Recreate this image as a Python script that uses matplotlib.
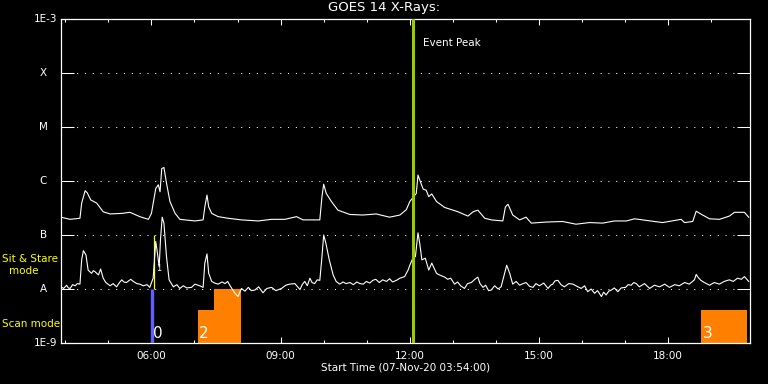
import numpy as np
import matplotlib
matplotlib.use('Agg')
import matplotlib.pyplot as plt

# GOES 14 X-ray flux, time in hours (UT) on 07-Nov-20, log10 flux (W/m^2)
t_long = [3.90, 4.11, 4.34, 4.38, 4.46, 4.51, 4.59, 4.73, 4.88, 5.04, 5.31, 5.50, 5.73, 5.93,
          6.00, 6.10, 6.16, 6.20, 6.24, 6.29, 6.35, 6.43, 6.55, 6.66, 6.78, 7.01, 7.20, 7.24,
          7.29, 7.33, 7.40, 7.55, 7.78, 8.09, 8.48, 8.79, 9.10, 9.37, 9.52, 9.91, 9.96, 10.00,
          10.06, 10.18, 10.33, 10.61, 10.91, 11.22, 11.53, 11.77, 11.92, 12.00, 12.15, 12.19,
          12.23, 12.31, 12.38, 12.44, 12.51, 12.62, 12.81, 13.12, 13.35, 13.47, 13.58, 13.74,
          13.89, 14.16, 14.22, 14.28, 14.39, 14.55, 14.70, 14.82, 15.17, 15.55, 15.86, 16.17,
          16.48, 16.75, 17.03, 17.22, 17.87, 18.30, 18.38, 18.57, 18.65, 18.80, 18.96, 19.19,
          19.42, 19.54, 19.77, 19.87]
f_long = [-6.67, -6.71, -6.69, -6.41, -6.18, -6.22, -6.35, -6.41, -6.57, -6.61, -6.60, -6.58, -6.66, -6.71,
          -6.60, -6.14, -6.07, -6.20, -5.77, -5.75, -6.04, -6.38, -6.60, -6.71, -6.72, -6.74, -6.72, -6.48,
          -6.26, -6.48, -6.60, -6.66, -6.69, -6.72, -6.74, -6.71, -6.71, -6.66, -6.72, -6.72, -6.29, -6.06,
          -6.23, -6.38, -6.54, -6.62, -6.63, -6.61, -6.67, -6.63, -6.53, -6.38, -6.23, -5.89,
          -5.98, -6.15, -6.17, -6.29, -6.24, -6.38, -6.49, -6.57, -6.65, -6.57, -6.54, -6.69,
          -6.72, -6.74, -6.48, -6.43, -6.63, -6.72, -6.67, -6.78, -6.76, -6.75, -6.80, -6.77,
          -6.78, -6.74, -6.74, -6.70, -6.77, -6.71, -6.77, -6.75, -6.56, -6.63, -6.70, -6.71,
          -6.65, -6.58, -6.58, -6.67]

t_short = [3.90, 3.96, 4.03, 4.07, 4.11, 4.17, 4.23, 4.28, 4.34, 4.38, 4.42, 4.48, 4.53, 4.61, 4.65,
           4.69, 4.77, 4.82, 4.88, 4.94, 5.04, 5.11, 5.19, 5.25, 5.31, 5.36, 5.42, 5.52, 5.58, 5.66,
           5.73, 5.81, 5.90, 5.96, 6.04, 6.10, 6.14, 6.18, 6.21, 6.25, 6.29, 6.35, 6.41, 6.51, 6.59,
           6.66, 6.74, 6.82, 6.93, 7.01, 7.12, 7.20, 7.24, 7.29, 7.33, 7.40, 7.47, 7.55, 7.64, 7.71,
           7.77, 7.82, 7.89, 7.94, 8.01, 8.09, 8.17, 8.25, 8.32, 8.40, 8.49, 8.59, 8.68, 8.79, 8.89,
           9.02, 9.12, 9.21, 9.33, 9.45, 9.50, 9.56, 9.62, 9.68, 9.73, 9.79, 9.85, 9.91, 9.96, 10.00,
           10.05, 10.13, 10.22, 10.29, 10.37, 10.45, 10.52, 10.61, 10.69, 10.77, 10.84, 10.92, 10.99,
           11.07, 11.14, 11.21, 11.29, 11.37, 11.46, 11.53, 11.60, 11.69, 11.77, 11.84, 11.88, 11.96,
           12.00, 12.07, 12.13, 12.19, 12.23, 12.28, 12.36, 12.44, 12.51, 12.62, 12.69, 12.81, 12.88,
           12.95, 13.04, 13.11, 13.18, 13.27, 13.34, 13.43, 13.51, 13.58, 13.63, 13.70, 13.76, 13.83,
           13.89, 13.97, 14.05, 14.12, 14.20, 14.25, 14.32, 14.39, 14.47, 14.55, 14.63, 14.70, 14.78,
           14.86, 14.93, 15.01, 15.11, 15.21, 15.27, 15.32, 15.37, 15.44, 15.51, 15.59, 15.69, 15.79,
           15.88, 15.98, 16.06, 16.13, 16.21, 16.29, 16.36, 16.45, 16.50, 16.56, 16.62, 16.68, 16.75,
           16.83, 16.91, 17.01, 17.07, 17.14, 17.20, 17.26, 17.33, 17.45, 17.57, 17.68, 17.80, 17.92,
           18.03, 18.15, 18.26, 18.38, 18.49, 18.61, 18.65, 18.70, 18.76, 18.84, 18.96, 19.07, 19.19,
           19.30, 19.42, 19.51, 19.61, 19.70, 19.77, 19.87]
f_short = [-7.96, -7.99, -7.93, -7.98, -7.99, -7.92, -7.94, -7.90, -7.91, -7.46, -7.29, -7.37, -7.65, -7.71, -7.66,
           -7.68, -7.74, -7.63, -7.80, -7.88, -7.94, -7.90, -7.96, -7.89, -7.83, -7.87, -7.88, -7.82, -7.86, -7.90,
           -7.91, -7.94, -7.92, -7.97, -7.80, -7.12, -7.34, -7.59, -7.09, -6.67, -6.78, -7.40, -7.83, -7.96, -7.92,
           -7.99, -7.94, -7.98, -7.97, -7.91, -7.94, -7.97, -7.52, -7.35, -7.71, -7.86, -7.89, -7.91, -7.87, -7.90,
           -7.86, -7.93, -8.02, -8.08, -8.14, -7.99, -8.04, -7.97, -8.03, -8.02, -7.96, -8.07, -7.99, -7.97, -8.03,
           -7.99, -7.93, -7.91, -7.90, -8.01, -7.92, -7.86, -7.94, -7.80, -7.88, -7.90, -7.83, -7.84, -7.40, -7.00,
           -7.15, -7.46, -7.74, -7.86, -7.91, -7.87, -7.90, -7.88, -7.92, -7.87, -7.90, -7.91, -7.86,
           -7.89, -7.84, -7.82, -7.88, -7.83, -7.86, -7.81, -7.87, -7.84, -7.80, -7.78, -7.77, -7.65,
           -7.56, -7.43, -7.40, -6.96, -7.15, -7.46, -7.43, -7.65, -7.52, -7.71, -7.74, -7.78, -7.82,
           -7.80, -7.91, -7.87, -7.94, -7.99, -7.90, -7.88, -7.82, -7.78, -7.90, -7.97, -7.93, -8.03,
           -8.02, -7.94, -8.00, -7.96, -7.71, -7.56, -7.71, -7.91, -7.86, -7.93, -7.90, -7.88, -7.95,
           -7.97, -7.90, -7.94, -7.89, -7.99, -7.93, -7.91, -7.85, -7.84, -7.92, -7.96, -7.90, -7.91,
           -7.95, -7.99, -7.94, -8.05, -8.00, -8.08, -8.03, -8.14, -8.06, -8.11, -8.04, -8.02, -7.98,
           -8.05, -7.98, -7.97, -7.92, -7.93, -7.88, -7.90, -7.96, -7.90, -7.99, -7.93, -7.96, -7.91,
           -7.97, -7.92, -7.94, -7.88, -7.91, -7.83, -7.73, -7.79, -7.84, -7.88, -7.93, -7.88, -7.91,
           -7.86, -7.83, -7.86, -7.80, -7.82, -7.77, -7.86]

# observing-mode blocks: start, end (hours), top (log10 flux), label
scan_start = [7.08, 7.45, 18.77]
scan_end = [7.45, 8.07, 19.83]
scan_top = [-8.39, -8.0, -8.39]
scan_label_t = [6.04, 7.10, 18.80]
scan_labels = ['0', '2', '3']

event_peak = 12.08
stare_time = 6.03

level_vals = [1e-9, 1e-8, 1e-7, 1e-6, 1e-5, 1e-4, 1e-3]
level_labels = ['1E-9', 'A', 'B', 'C', 'M', 'X', '1E-3']
hour_ticks = [6, 9, 12, 15, 18]

fig = plt.figure(figsize=(7.68, 3.84), dpi=100, facecolor='black')
ax = fig.add_axes([61/768, 41/384, 689/768, 324/384])
ax.set_facecolor('black')
ax.set_yscale('log')
ax.set_xlim(3.9, 19.9)
ax.set_ylim(1e-9, 1e-3)

# dotted level lines
for lv in level_vals[1:-1]:
    ax.axhline(lv, color='white', lw=0.75, ls=(0, (1, 6.5)), zorder=1)

# scan mode blocks
for s, e, top in zip(scan_start, scan_end, scan_top):
    ax.fill_between([s, e], 1e-9, 10**top, color='#ff8000', lw=0, zorder=2)
for tl, lab in zip(scan_label_t, scan_labels):
    ax.text(tl, 10**-8.82, lab, color='white', fontsize=11, ha='left', va='center', zorder=5)

ax.vlines(stare_time - 0.01, 1e-9, 1e-8, color='#6060ff', lw=2.4, zorder=3)
ax.vlines(stare_time + 0.02, 1e-8, 1e-7, color='#ffff00', lw=0.9, zorder=3)
ax.text(6.1, 10**-7.62, '1', color='white', fontsize=6, ha='left', va='center', zorder=5)

ax.plot(t_long, 10**np.array(f_long), color='white', lw=0.8, zorder=4)
ax.plot(t_short, 10**np.array(f_short), color='white', lw=0.8, zorder=4)

ax.axvline(event_peak, color='#9acd00', lw=2.2, zorder=5)
ax.text(event_peak + 0.22, 10**-3.45, 'Event Peak', color='white', fontsize=7.5,
        ha='left', va='center')

# axes styling
for sp in ax.spines.values():
    sp.set_color('white')
    sp.set_linewidth(0.9)

ax.set_xticks(hour_ticks)
ax.set_xticklabels(['%02d:00' % h for h in hour_ticks])
ax.set_xticks(np.arange(4, 20), minor=True)
ax.tick_params(axis='x', which='major', direction='in', length=4.5, width=0.75,
               colors='white', top=True, labelsize=7.5, pad=6)
ax.tick_params(axis='x', which='minor', direction='in', length=2.2, width=0.75,
               colors='white', top=True)
ax.set_yticks(level_vals)
ax.set_yticklabels([])
ax.yaxis.set_minor_locator(matplotlib.ticker.NullLocator())
ax.tick_params(axis='y', which='major', direction='in', length=9.5, width=0.75,
               colors='white', right=True)

ytr = ax.get_yaxis_transform()
for lv, lab in zip(level_vals, level_labels):
    if lab.startswith('1E'):
        ax.text(-0.006, lv, lab, transform=ytr, color='white', fontsize=7.5,
                ha='right', va='center')
    else:
        ax.text(-0.0255, lv, lab, transform=ytr, color='white', fontsize=7.5,
                ha='center', va='center')

ax.set_xlabel('Start Time (07-Nov-20 03:54:00)', color='white', fontsize=7.5, labelpad=1)
fig.text(0.5, 1 - 8/384, 'GOES 14 X-Rays:', color='white', fontsize=9.5,
         ha='center', va='center')

fig.text(2/768, 1 - 259/384, 'Sit & Stare', color='#ffff00', fontsize=7.5, ha='left', va='center')
fig.text(24/768, 1 - 271/384, 'mode', color='#ffff00', fontsize=7.5, ha='center', va='center')
fig.text(2/768, 1 - 324/384, 'Scan mode', color='#ffff00', fontsize=7.5, ha='left', va='center')

plt.savefig('out.png', dpi=100, facecolor='black')
